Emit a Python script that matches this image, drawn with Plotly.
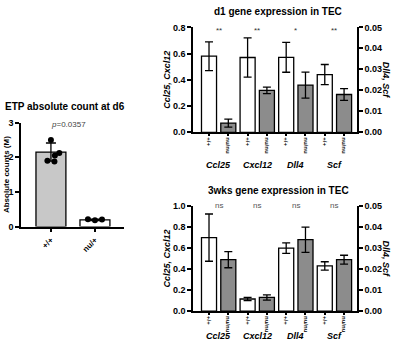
import plotly.graph_objects as go

W, H = 394, 353

# ---------------- data ----------------
# Panel A: ETP absolute count at d6
etp_groups = ["+/+", "nu/+"]
etp_means = [2.15, 0.19]
etp_sd = [0.26, 0.02]
etp_points_wt = [2.50, 2.12, 2.05, 1.90, 1.88]
etp_points_nu = [0.21, 0.18, 0.20]
etp_jitter_wt = [0.0, 0.19, 0.09, -0.08, 0.08]
etp_jitter_nu = [-0.16, 0.0, 0.16]
etp_pvalue = "0.0357"

# Panels B/C: gene expression in TEC
genes = ["Ccl25", "Cxcl12", "Dll4", "Scf"]
genotypes = ["+/+", "nu/nu"]

d1_wt = [0.58, 0.57, 0.0357, 0.0275]
d1_wt_err = [0.11, 0.15, 0.0071, 0.0048]
d1_nu = [0.07, 0.32, 0.0225, 0.018]
d1_nu_err = [0.03, 0.025, 0.0062, 0.0028]
d1_sig = ["**", "**", "*", "**"]

w3_wt = [0.70, 0.115, 0.030, 0.0215]
w3_wt_err = [0.225, 0.015, 0.0025, 0.002]
w3_nu = [0.49, 0.13, 0.034, 0.0245]
w3_nu_err = [0.077, 0.025, 0.006, 0.0021]
w3_sig = ["ns", "ns", "ns", "ns"]

FONT = "Arial, Liberation Sans, sans-serif"
WT_FILL = "white"
NU_FILL = "#8c8c8c"


def dx(p):
    return p / W


def dy(p):
    return 1 - p / H


fig = go.Figure()

# ---------------- Panel A ----------------
fig.add_trace(go.Bar(
    x=[0, 1], y=etp_means, width=0.68,
    marker=dict(color=["#c8c8c8", "white"], line=dict(color="black", width=1.3)),
    error_y=dict(type="data", array=etp_sd, color="black", thickness=1.3, width=5),
    xaxis="x", yaxis="y", showlegend=False))
fig.add_trace(go.Scatter(
    x=[0 + j for j in etp_jitter_wt] + [1 + j for j in etp_jitter_nu],
    y=etp_points_wt + etp_points_nu, mode="markers",
    marker=dict(color="black", size=6), xaxis="x", yaxis="y", showlegend=False))


# ---------------- Panels B and C ----------------
def add_panel(wt, wt_err, nu, nu_err, xa, yl, yr):
    for yax, idx in [(yl, [0, 1]), (yr, [2, 3])]:
        fig.add_trace(go.Bar(
            x=[2 * i for i in idx], y=[wt[i] for i in idx], width=0.78,
            marker=dict(color=WT_FILL, line=dict(color="black", width=1.3)),
            error_y=dict(type="data", array=[wt_err[i] for i in idx],
                         color="black", thickness=1.3, width=4),
            xaxis=xa, yaxis=yax, showlegend=False))
        fig.add_trace(go.Bar(
            x=[2 * i + 1 for i in idx], y=[nu[i] for i in idx], width=0.78,
            marker=dict(color=NU_FILL, line=dict(color="black", width=1.3)),
            error_y=dict(type="data", array=[nu_err[i] for i in idx],
                         color="black", thickness=1.3, width=4),
            xaxis=xa, yaxis=yax, showlegend=False))


add_panel(d1_wt, d1_wt_err, d1_nu, d1_nu_err, "x2", "y2", "y3")
add_panel(w3_wt, w3_wt_err, w3_nu, w3_nu_err, "x3", "y4", "y5")

tickfont = dict(family=FONT, size=9, color="black", weight="bold")
small_tickfont = dict(family=FONT, size=6, color="black", weight="bold")
axis_common = dict(showline=True, linecolor="black", linewidth=1.5, ticks="outside",
                   ticklen=4, tickwidth=1.5, tickcolor="black", showgrid=False,
                   zeroline=False, tickfont=tickfont)

bar_ticks = list(range(8))
bar_ticktext = [genotypes[i % 2] for i in range(8)]
xbar_common = {**axis_common, "tickfont": small_tickfont, "ticklen": 2}

fig.update_layout(
    width=W, height=H, margin=dict(l=0, r=0, t=0, b=0),
    paper_bgcolor="white", plot_bgcolor="white", barmode="overlay",
    font=dict(family=FONT, color="black"),
    xaxis=dict(domain=[dx(21), dx(124)], range=[-0.68, 1.66], anchor="y",
               tickvals=[0, 1], ticktext=etp_groups, tickangle=-45,
               **{**axis_common, "tickfont": dict(small_tickfont, size=8)}),
    yaxis=dict(domain=[dy(228), dy(121)], range=[0, 3], anchor="x",
               tickvals=[0, 1, 2, 3], **axis_common),
    xaxis2=dict(domain=[dx(193), dx(357)], range=[-0.83, 7.67], anchor="y2",
                tickvals=bar_ticks, ticktext=bar_ticktext, tickangle=90, **xbar_common),
    yaxis2=dict(domain=[dy(131), dy(23)], range=[0, 0.8], anchor="x2",
                tickvals=[0, 0.2, 0.4, 0.6, 0.8], tickformat=".1f", **axis_common),
    yaxis3=dict(overlaying="y2", side="right", range=[0, 0.05], anchor="x2",
                tickvals=[0, 0.01, 0.02, 0.03, 0.04, 0.05], tickformat=".2f", **axis_common),
    xaxis3=dict(domain=[dx(193), dx(357)], range=[-0.83, 7.67], anchor="y4",
                tickvals=bar_ticks, ticktext=bar_ticktext, tickangle=90, **xbar_common),
    yaxis4=dict(domain=[dy(315), dy(207)], range=[0, 1.0], anchor="x3",
                tickvals=[0, 0.2, 0.4, 0.6, 0.8, 1.0], tickformat=".1f", **axis_common),
    yaxis5=dict(overlaying="y4", side="right", range=[0, 0.05], anchor="x3",
                tickvals=[0, 0.01, 0.02, 0.03, 0.04, 0.05], tickformat=".2f", **axis_common),
)

ann = []


def label(text, xp, yp, size=10, angle=0, color="black", bold=True):
    ann.append(dict(text=f"<b>{text}</b>" if bold else text, x=dx(xp), y=dy(yp),
                    xref="paper", yref="paper", showarrow=False, textangle=angle,
                    font=dict(family=FONT, size=size, color=color),
                    xanchor="center", yanchor="middle"))


# titles
label("ETP absolute count at d6", 65, 104, size=10)
label("d1 gene expression in TEC", 278, 7, size=10)
label("3wks gene expression in TEC", 278, 191, size=10)

# y-axis titles
label("Absolute counts (M)", 6, 175, size=8, angle=-90)
label("<i>Ccl25, Cxcl12</i>", 167, 77, size=9, angle=-90)
label("<i>Dll4, Scf</i>", 386, 77, size=9, angle=90)
label("<i>Ccl25, Cxcl12</i>", 167, 261, size=9, angle=-90)
label("<i>Dll4, Scf</i>", 386, 261, size=9, angle=90)

# p value
label(f"<i>p</i>={etp_pvalue}", 68, 123, size=8, color="#444444", bold=False)

# gene labels, significance
for i, g in enumerate(genes):
    xcen = 2 * i + 0.5
    ann.append(dict(text=f"<b><i>{g}</i></b>", x=xcen, xref="x2", y=dy(165), yref="paper",
                    yanchor="middle", showarrow=False,
                    font=dict(family=FONT, size=9, color="black")))
    ann.append(dict(text=f"<b><i>{g}</i></b>", x=xcen, xref="x3", y=dy(341), yref="paper",
                    yanchor="middle", showarrow=False,
                    font=dict(family=FONT, size=9, color="black")))
    ann.append(dict(text=d1_sig[i], x=xcen, xref="x2", y=dy(20), yref="paper",
                    showarrow=False, font=dict(family=FONT, size=8, color="#333333")))
    ann.append(dict(text=w3_sig[i], x=xcen, xref="x3", y=dy(206), yref="paper",
                    showarrow=False, font=dict(family=FONT, size=8, color="#555555")))

fig.update_layout(annotations=ann)
fig.write_html("out.html", config={"displayModeBar": False},
               post_script="document.body.style.margin='0';document.body.style.padding='0';")
